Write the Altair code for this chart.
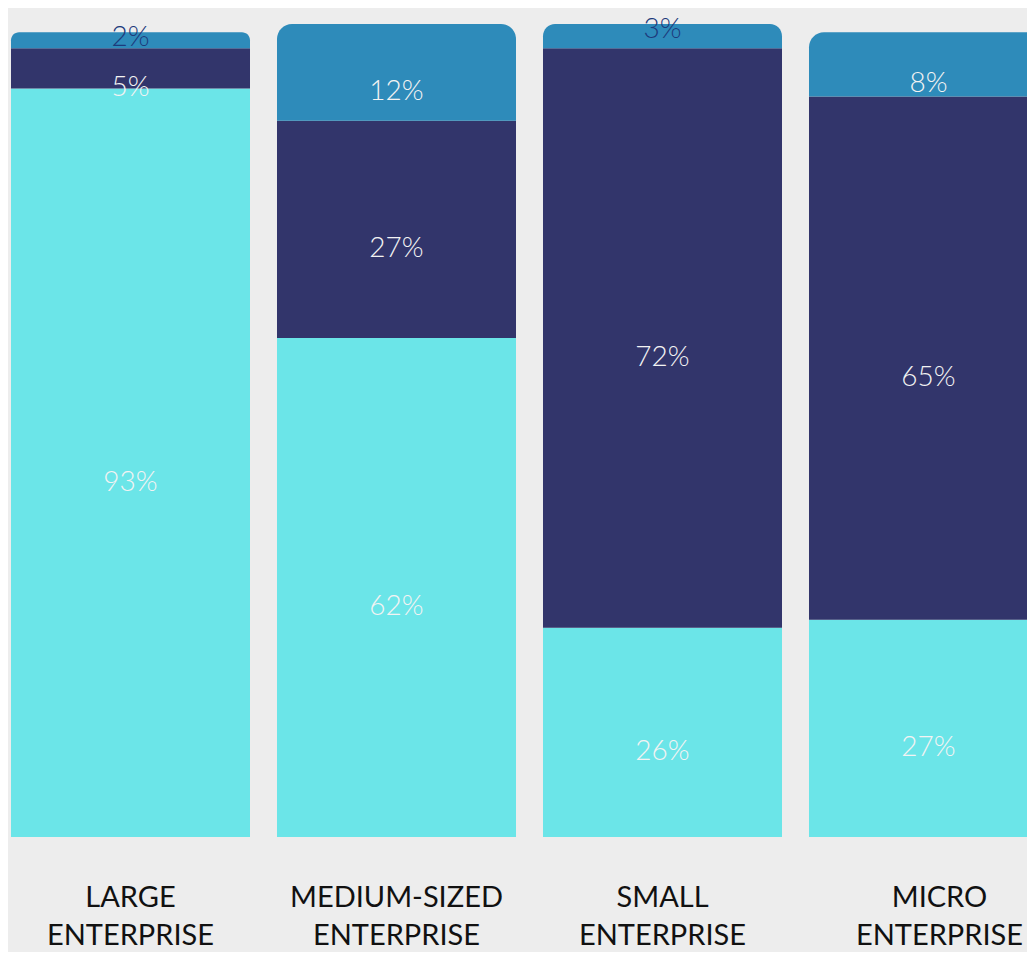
import altair as alt
import pandas as pd

categories = ["LARGE ENTERPRISE", "MEDIUM-SIZED ENTERPRISE", "SMALL ENTERPRISE", "MICRO ENTERPRISE"]
seg_names = ["Bottom", "Middle", "Top"]
bottom_vals = [93, 62, 26, 27]
middle_vals = [5, 27, 72, 65]
top_vals = [2, 12, 3, 8]

rows = []
for i, c in enumerate(categories):
    for k, (s, vals) in enumerate(zip(seg_names, [bottom_vals, middle_vals, top_vals])):
        rows.append({"cat": c, "seg": s, "order": k, "value": vals[i]})
df = pd.DataFrame(rows)

colors = alt.Scale(domain=seg_names, range=["#6be5e8", "#32356b", "#2e8bba"])

xenc = alt.X(
    "cat:N",
    sort=categories,
    title=None,
    scale=alt.Scale(range=[3, 1040], paddingInner=0.1015, paddingOuter=0),
    axis=alt.Axis(
        domain=False, ticks=False, labelAngle=0,
        labelExpr="split(datum.label, ' ')",
        labelFont="Lato", labelFontSize=29, labelColor="#111111",
        labelLineHeight=38, labelPadding=46, labelLimit=0,
        labelOffset={"condition": {"test": "datum.value == 'MICRO ENTERPRISE'", "value": 11}, "value": 0},
    ),
)

base = alt.Chart(df).transform_stack(
    stack="value", groupby=["cat"], as_=["y0", "y1"], sort=[alt.SortField("order")]
).transform_calculate(
    mid="datum.value < 5 ? datum.y1 : (datum.y0 + datum.y1) / 2",
)

yscale = alt.Scale(domain=[0, 103], nice=False)

lower = base.transform_filter("datum.seg != 'Top'").mark_bar(clip=True).encode(
    x=xenc,
    y=alt.Y("y0:Q", scale=yscale, axis=None),
    y2="y1:Q",
    color=alt.Color("seg:N", scale=colors, legend=None),
)
upper = base.transform_filter("datum.seg == 'Top'").mark_bar(
    clip=True, cornerRadiusTopLeft=15, cornerRadiusTopRight=15
).encode(
    x=xenc,
    y=alt.Y("y0:Q", scale=yscale, axis=None),
    y2="y1:Q",
    color=alt.Color("seg:N", scale=colors, legend=None),
)

label_big = base.transform_filter("datum.value >= 5").transform_calculate(
    label="datum.value + '%'"
).mark_text(font="Lato", fontSize=28, fontWeight=300, dy=20, clip=True, color="#f3f3f3").encode(
    x=xenc,
    y=alt.Y("mid:Q", scale=yscale, axis=None),
    text=alt.Text("label:N"),
)
label_small = base.transform_filter("datum.value < 5").transform_calculate(
    label="datum.value + '%'"
).mark_text(font="Lato", fontSize=28, fontWeight=300, dy=6, clip=False, color="#1d3a7c").encode(
    x=xenc,
    y=alt.Y("mid:Q", scale=yscale, axis=None),
    text=alt.Text("label:N"),
)

chart = alt.layer(lower, upper, label_big, label_small).properties(
    width=1019, height=829,
    autosize=alt.AutoSizeParams(type="none"),
    padding={"left": 0, "top": 0, "right": 0, "bottom": 115},
    background="#ededed",
).configure_view(stroke=None)

chart.save("out.html", embed_options={"renderer": "svg", "actions": False})
